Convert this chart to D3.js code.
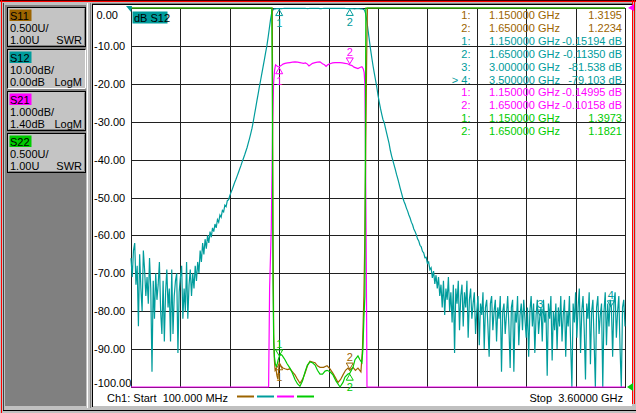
<!DOCTYPE html>
<html lang="en">
<head>
<meta charset="UTF-8">
<title>Ch1 S-parameters</title>
<script src="https://cdn.jsdelivr.net/npm/d3@7/dist/d3.min.js"></script>
<style>
  body { margin: 0; background: #c0c0c0; }
  svg text { font-family: "Liberation Sans", Arial, sans-serif; font-size: 11px; }
</style>
</head>
<body>
<svg id="mainsvg" width="636" height="413"></svg>
<script>
// sweep, GHz (401 points)
const sweepStart = 0.1, sweepStop = 3.6;

// S12 log magnitude, dB, one value per sweep point
const s12 = [
  -66,-71,-64,-62,-73,-68,-84,-65,-74,-80,
  -64,-69,-76,-71,-78,-66,-74,-96,-72,-82,
  -70,-77,-73,-67,-80,-86,-72,-88,-75,-69,
  -79,-74,-88,-69,-86,-76,-72,-70,-91,-75,
  -71,-68,-82,-74,-80,-67,-82,-73,-69,-76,
  -70,-74,-68,-72,-67,-70,-64,-67,-62,-65,
  -61,-63.5,-60,-62,-59,-60.5,-58,-59,-57,-58,
  -55.8,-56.5,-54.6,-55.2,-53.4,-53.8,-52.0,-52.4,-50.8,-50.6,
  -49.5,-48.6,-47.8,-46.9,-46.0,-45.2,-44.3,-43.4,-42.5,-41.6,
  -40.6,-39.7,-38.8,-37.8,-36.8,-35.6,-34.4,-33.1,-31.7,-30.0,
  -28.1,-26.3,-24.4,-22.6,-20.7,-19.0,-17.2,-15.4,-13.6,-11.8,
  -10.0,-7.8,-5.4,-3.0,-1.2,-0.5,-0.25,-0.22,-0.18,-0.16,
  -0.15,-0.14,-0.15,-0.13,-0.12,-0.11,-0.10,-0.10,-0.09,-0.09,
  -0.10,-0.11,-0.12,-0.12,-0.11,-0.10,-0.09,-0.08,-0.08,-0.09,
  -0.10,-0.11,-0.13,-0.14,-0.13,-0.11,-0.10,-0.09,-0.08,-0.08,
  -0.09,-0.11,-0.12,-0.14,-0.15,-0.13,-0.11,-0.10,-0.09,-0.08,
  -0.08,-0.09,-0.09,-0.10,-0.10,-0.09,-0.09,-0.10,-0.11,-0.12,
  -0.12,-0.11,-0.11,-0.12,-0.13,-0.14,-0.16,-0.17,-0.18,-0.19,
  -0.20,-0.21,-0.20,-0.19,-0.18,-0.20,-0.22,-0.26,-0.32,-0.5,
  -1.5,-3.5,-6.0,-8.5,-11.0,-13.2,-15.3,-17.2,-19.0,-20.8,
  -23.0,-24.8,-26.5,-28.0,-29.4,-30.2,-31.6,-33.0,-34.4,-35.8,
  -37.6,-39.0,-40.2,-41.4,-42.6,-43.9,-45.0,-46.3,-47.6,-48.8,
  -50.0,-51.0,-51.8,-52.8,-53.6,-54.6,-55.4,-56.5,-57.2,-58.3,
  -59.0,-59.8,-60.9,-61.5,-62.6,-63.0,-64.2,-64.6,-65.9,-65.8,
  -67.4,-67.0,-69.0,-68.5,-71.2,-69.4,-72.8,-70.5,-74.0,-71.0,
  -76,-73,-79,-72,-81,-74,-77,-71,-80,-75,
  -83,-73,-91,-74,-78,-72,-85,-76,-73,-84,
  -75,-79,-72,-87,-77,-74,-82,-78,-75,-86,
  -80,-76,-89,-78,-81,-75,-90,-79,-77,-84,
  -92,-78,-76,-85,-80,-77,-88,-79,-82,-76,
  -96,-80,-78,-86,-81,-76,-84,-95,-79,-77,
  -96,-80,-83,-76,-89,-81,-78,-85,-77,-82,
  -87,-79,-92,-80,-76,-84,-78,-91,-81,-77,
  -86,-81.5,-79,-88,-77,-83,-80,-97,-78,-82,
  -76,-93,-80,-85,-78,-90,-79,-84,-76,-88,
  -81,-77,-92,-80,-84,-76,-89,-102,-78,-83,
  -75,-87,-79,-74,-91,-80,-76,-85,-98,-78,
  -82,-75,-94,-80,-77,-88,-103,-79,-76,-86,
  -81,-78,-101,-80,-75,-89,-78,-84,-77,-79.1,
  -92,-78,-75,-87,-80,-76,-90,-102,-79,-77,
  -84
];

// S21 log magnitude, dB (values below the screen are clipped)
const s21Freq = [0.100,1.075,1.082,1.094,1.103,1.110,1.117,1.124,1.131,1.141,1.150,1.163,1.177,1.191,
  1.209,1.226,1.244,1.262,1.280,1.297,1.308,1.322,1.336,1.350,1.361,1.372,1.386,1.404,1.421,1.439,
  1.457,1.471,1.482,1.493,1.510,1.528,1.545,1.563,1.581,1.598,1.616,1.634,1.650,1.666,1.680,1.694,
  1.708,1.722,1.736,1.745,1.752,1.757,1.760,1.767,1.772,3.600];
const s21Val = [-60,-60,-6.0,-4.4,-1.8,-0.6,-0.25,-0.10,-0.12,-0.15,-0.15,-0.12,-0.08,-0.06,
  -0.05,-0.04,-0.03,-0.02,-0.03,-0.04,-0.05,-0.06,-0.05,-0.08,-0.13,-0.10,-0.06,-0.04,-0.03,-0.02,
  -0.07,-0.10,-0.14,-0.10,-0.07,-0.05,-0.04,-0.04,-0.04,-0.05,-0.06,-0.07,-0.10,-0.12,-0.16,-0.18,
  -0.20,-0.17,-0.15,-0.20,-0.30,-0.6,-1.7,-5.3,-60,-60];

// S11 SWR
const s11Freq = [0.100,1.096,1.101,1.106,1.111,1.116,1.121,1.127,1.134,1.141,1.150,1.163,1.177,1.191,
  1.208,1.226,1.244,1.262,1.280,1.297,1.315,1.333,1.350,1.368,1.386,1.404,1.421,1.439,1.464,1.489,
  1.510,1.531,1.549,1.567,1.585,1.602,1.620,1.637,1.650,1.673,1.690,1.708,1.729,1.740,1.750,1.757,
  1.765,1.770,1.775,3.600];
const s11Val = [20,20,6.5,3.1,1.7,1.35,1.22,1.24,1.15,1.10,1.32,1.28,1.25,1.24,
  1.23,1.24,1.20,1.16,1.10,1.05,1.10,1.18,1.28,1.34,1.33,1.32,1.28,1.26,1.26,1.28,
  1.24,1.18,1.12,1.06,1.10,1.16,1.22,1.25,1.22,1.26,1.22,1.25,1.20,1.5,2.2,3.0,
  4.5,5.4,20,20];

// S22 SWR
const s22Freq = [0.100,1.097,1.101,1.106,1.111,1.116,1.123,1.130,1.137,1.143,1.150,1.160,1.170,1.180,
  1.191,1.205,1.226,1.244,1.262,1.280,1.297,1.315,1.333,1.350,1.368,1.386,1.404,1.421,1.439,1.457,
  1.475,1.489,1.510,1.531,1.552,1.581,1.602,1.616,1.637,1.650,1.673,1.687,1.708,1.722,1.736,1.743,
  1.750,1.757,1.764,3.600];
const s22Val = [20,20,5.0,2.4,1.6,1.4,1.3,1.27,1.31,1.36,1.40,1.43,1.42,1.39,
  1.36,1.31,1.25,1.18,1.10,1.04,1.01,1.08,1.20,1.29,1.33,1.32,1.29,1.22,1.17,1.17,
  1.21,1.22,1.20,1.16,1.08,1.00,1.06,1.13,1.17,1.18,1.26,1.36,1.41,1.36,1.32,1.5,
  1.9,2.2,20,20];

// channel setup (scale/div, reference value, reference position in divisions from top)
const chNames  = ["S11", "S12", "S21", "S22"];
const chColors = ["#9c6400", "#009c9c", "#ff00ff", "#00cc00"];
const chPerDiv = [0.5, 10, 1, 0.5];
const chRefVal = [1.0, 0, 1.4, 1.0];
const chRefPos = [10, 0, 0, 10];
const chScaleText = ["0.500U/", "10.00dB/", "1.000dB/", "0.500U/"];
const chRefText   = ["1.00U", "0.00dB", "1.40dB", "1.00U"];
const chFmtText   = ["SWR", "LogM", "LogM", "SWR"];

const yTickValues = [0, -10, -20, -30, -40, -50, -60, -70, -80, -90, -100];
const yTickLabels = ["0.00", "-10.00", "-20.00", "-30.00", "-40.00", "-50.00", "-60.00", "-70.00", "-80.00", "-90.00", "-100.00"];

// markers
const mkCh    = ["S11","S11","S12","S12","S12","S12","S21","S21","S22","S22"];
const mkNum   = ["1:","2:","1:","2:","3:","> 4:","1:","2:","1:","2:"];
const mkGHz   = [1.15, 1.65, 1.15, 1.65, 3.0, 3.5, 1.15, 1.65, 1.15, 1.65];
const mkValue = [1.3195, 1.2234, -0.15194, -0.11350, -81.538, -79.103, -0.14995, -0.10158, 1.3973, 1.1821];
const mkFreqText = ["1.150000 GHz","1.650000 GHz","1.150000 GHz","1.650000 GHz","3.000000 GHz",
  "3.500000 GHz","1.150000 GHz","1.650000 GHz","1.150000 GHz","1.650000 GHz"];
const mkValText = ["1.3195","1.2234","-0.15194 dB","-0.11350 dB","-81.538 dB","-79.103 dB",
  "-0.14995 dB","-0.10158 dB","1.3973","1.1821"];
const mkBelow = [true, false, true, true, false, false, true, false, false, true];

const svg = d3.select("#mainsvg");
const W = 636, H = 413;
const grid = {left: 131, right: 625, top: 8, bottom: 387};
const color = name => chColors[chNames.indexOf(name)];

// ---------- window chrome ----------
svg.append("rect").attr("width", W).attr("height", H).attr("fill", "#c0c0c0");
svg.append("rect").attr("x", 93).attr("y", 5).attr("width", 539).attr("height", 401).attr("fill", "#fff");
svg.append("rect").attr("x", 5).attr("y", 5).attr("width", 81).attr("height", 401).attr("fill", "#808080");

const chrome = [
  {x1: 0, y1: 0.5, x2: W, y2: 0.5, c: "#400000"},
  {x1: 0, y1: 1.5, x2: W, y2: 1.5, c: "#ff0000"},
  {x1: 92, y1: 3.5, x2: 632, y2: 3.5, c: "#808080"},
  {x1: 92, y1: 4.5, x2: 632, y2: 4.5, c: "#000"},
  {x1: 1.5, y1: 0, x2: 1.5, y2: H, c: "#ff0000"},
  {x1: 3.5, y1: 3, x2: 3.5, y2: 410, c: "#404040"},
  {x1: 87.5, y1: 3, x2: 87.5, y2: 408, c: "#ffffff"},
  {x1: 90.5, y1: 3, x2: 90.5, y2: 408, c: "#808080"},
  {x1: 92.5, y1: 4, x2: 92.5, y2: 407, c: "#000"},
  {x1: 632.5, y1: 0, x2: 632.5, y2: 404, c: "#ff0000"},
  {x1: 634.5, y1: 0, x2: 634.5, y2: 404, c: "#ff0000"},
  {x1: 3, y1: 410.5, x2: W, y2: 410.5, c: "#000"}
];
svg.selectAll("line.chrome").data(chrome).join("line").attr("class", "chrome")
  .attr("x1", d => d.x1).attr("y1", d => d.y1).attr("x2", d => d.x2).attr("y2", d => d.y2)
  .attr("stroke", d => d.c).attr("stroke-width", 1);

// ---------- channel buttons ----------
chNames.forEach((name, k) => {
  const bx = 7, by = 7 + k * 42;
  const b = svg.append("g").attr("transform", `translate(${bx},${by})`);
  b.append("rect").attr("x", 0.5).attr("y", 0.5).attr("width", 78).attr("height", 39)
    .attr("fill", "#c4c4c4").attr("stroke", "#000");
  if (name === "S12") {
    b.append("path").attr("d", "M78.5,0.5V39.5H0.5").attr("fill", "none").attr("stroke", "#fff");
  } else {
    b.append("path").attr("d", "M77.5,1.5V38.5H1.5").attr("fill", "none").attr("stroke", "#808080");
  }
  b.append("rect").attr("x", 2.5).attr("y", 2.5).attr("width", 22).attr("height", 11.5).attr("fill", chColors[k]);
  b.append("text").attr("x", 3).attr("y", 13).attr("fill", "#000").text(name);
  b.append("text").attr("x", 3).attr("y", 25).attr("fill", "#000").text(chScaleText[k]);
  b.append("text").attr("x", 3).attr("y", 37).attr("fill", "#000").text(chRefText[k]);
  b.append("text").attr("x", 75).attr("y", 37).attr("text-anchor", "end").attr("fill", "#000").text(chFmtText[k]);
});

// ---------- scales ----------
const x = d3.scaleLinear().domain([sweepStart, sweepStop]).range([grid.left, grid.right]);
const yScales = {};
chNames.forEach((name, k) => {
  const top = chRefVal[k] + chRefPos[k] * chPerDiv[k];
  yScales[name] = d3.scaleLinear().domain([top - 10 * chPerDiv[k], top])
    .range([grid.bottom, grid.top]).clamp(true);
});
const yS12 = yScales["S12"];

// ---------- graticule ----------
const xDivs = d3.range(0, 11).map(k => sweepStart + k * (sweepStop - sweepStart) / 10);
const gridG = svg.append("g").attr("shape-rendering", "crispEdges");
gridG.append("g").attr("transform", `translate(0,${grid.bottom})`)
  .call(d3.axisBottom(x).tickValues(xDivs).tickSize(-(grid.bottom - grid.top)).tickFormat(""))
  .call(g => g.select(".domain").remove());
gridG.append("g").attr("transform", `translate(${grid.left},0)`)
  .call(d3.axisLeft(yS12).tickValues(yTickValues).tickSize(-(grid.right - grid.left)).tickFormat(""))
  .call(g => g.select(".domain").remove());
gridG.selectAll(".tick line").attr("stroke", "#202020");
gridG.append("rect").attr("x", grid.left).attr("y", grid.top)
  .attr("width", grid.right - grid.left).attr("height", grid.bottom - grid.top)
  .attr("fill", "none").attr("stroke", "#202020");

// y labels (active channel S12)
svg.append("g").selectAll("text").data(yTickValues).join("text")
  .attr("x", d => d < 0 ? 94 : 96.5)
  .attr("y", d => Math.min(Math.max(yS12(d) + 4, grid.top + 11), grid.bottom))
  .attr("fill", "#000")
  .text((d, i) => yTickLabels[i]);

// trace title tag
svg.append("rect").attr("x", 132.5).attr("y", 11.5).attr("width", 35).attr("height", 12).attr("fill", color("S12"));
svg.append("text").attr("x", 134).attr("y", 22).attr("fill", "#000").text("dB S12");

// ---------- marker table (drawn under traces) ----------
const table = svg.append("g");
mkNum.forEach((n, k) => {
  const yy = 19 + k * 12.9;
  const c = color(mkCh[k]);
  table.append("text").attr("x", 470.5).attr("y", yy).attr("text-anchor", "end").attr("fill", c).text(n);
  table.append("text").attr("x", 560).attr("y", yy).attr("text-anchor", "end").attr("fill", c).text(mkFreqText[k]);
  table.append("text").attr("x", 622).attr("y", yy).attr("text-anchor", "end").attr("fill", c).text(mkValText[k]);
});

// ---------- traces ----------
const traceData = {
  S12: s12.map((v, i) => [sweepStart + i * (sweepStop - sweepStart) / (s12.length - 1), v]),
  S21: s21Freq.map((f, i) => [f, s21Val[i]]),
  S11: s11Freq.map((f, i) => [f, s11Val[i]]),
  S22: s22Freq.map((f, i) => [f, s22Val[i]])
};
["S12", "S21", "S11", "S22"].forEach(name => {
  const line = d3.line().x(d => x(d[0])).y(d => yScales[name](d[1]));
  svg.append("path").datum(traceData[name])
    .attr("d", line)
    .attr("fill", "none")
    .attr("stroke", color(name))
    .attr("stroke-width", 1.2);
});

// ---------- markers ----------
const mk = svg.append("g");
mkGHz.forEach((f, k) => {
  const name = mkCh[k];
  const px = x(f), py = yScales[name](mkValue[k]);
  const c = color(name);
  const s = mkBelow[k] ? 1 : -1;
  const tri = [[px, py + s], [px - 3.5, py + 7 * s], [px + 3.5, py + 7 * s]];
  mk.append("path").attr("d", "M" + tri.join("L") + "Z")
    .attr("fill", "none").attr("stroke", c);
  mk.append("text").attr("x", px).attr("y", mkBelow[k] ? py + 18 : py - 9)
    .attr("text-anchor", "middle").attr("fill", c)
    .text(mkNum[k].replace(/[^0-9]/g, ""));
});

// reference position indicators
const refMarks = [
  {pts: [[126, yS12(0) - 2], [132, yS12(0) - 2], [131, yS12(0) + 4]], c: color("S12")},
  {pts: [[628, yScales["S21"](1.4)], [634, yScales["S21"](1.4) - 4], [634, yScales["S21"](1.4) + 3]], c: color("S21")},
  {pts: [[627, yScales["S22"](1.0)], [633, yScales["S22"](1.0) - 4], [633, yScales["S22"](1.0) + 4]], c: color("S22")}
];
svg.selectAll("path.ref").data(refMarks).join("path").attr("class", "ref")
  .attr("d", d => "M" + d.pts.join("L") + "Z").attr("fill", d => d.c);

// ---------- status line ----------
svg.append("text").attr("x", 107).attr("y", 402).attr("fill", "#000")
  .style("white-space", "pre").text("Ch1: Start  100.000 MHz");
svg.append("text").attr("x", 623).attr("y", 402).attr("text-anchor", "end").attr("fill", "#000")
  .style("white-space", "pre").text("Stop  3.60000 GHz");
svg.append("g").selectAll("line").data(chColors).join("line")
  .attr("x1", (d, i) => 237 + i * 20).attr("x2", (d, i) => 254 + i * 20)
  .attr("y1", 396.5).attr("y2", 396.5)
  .attr("stroke", d => d).attr("stroke-width", 2);
</script>
</body>
</html>
